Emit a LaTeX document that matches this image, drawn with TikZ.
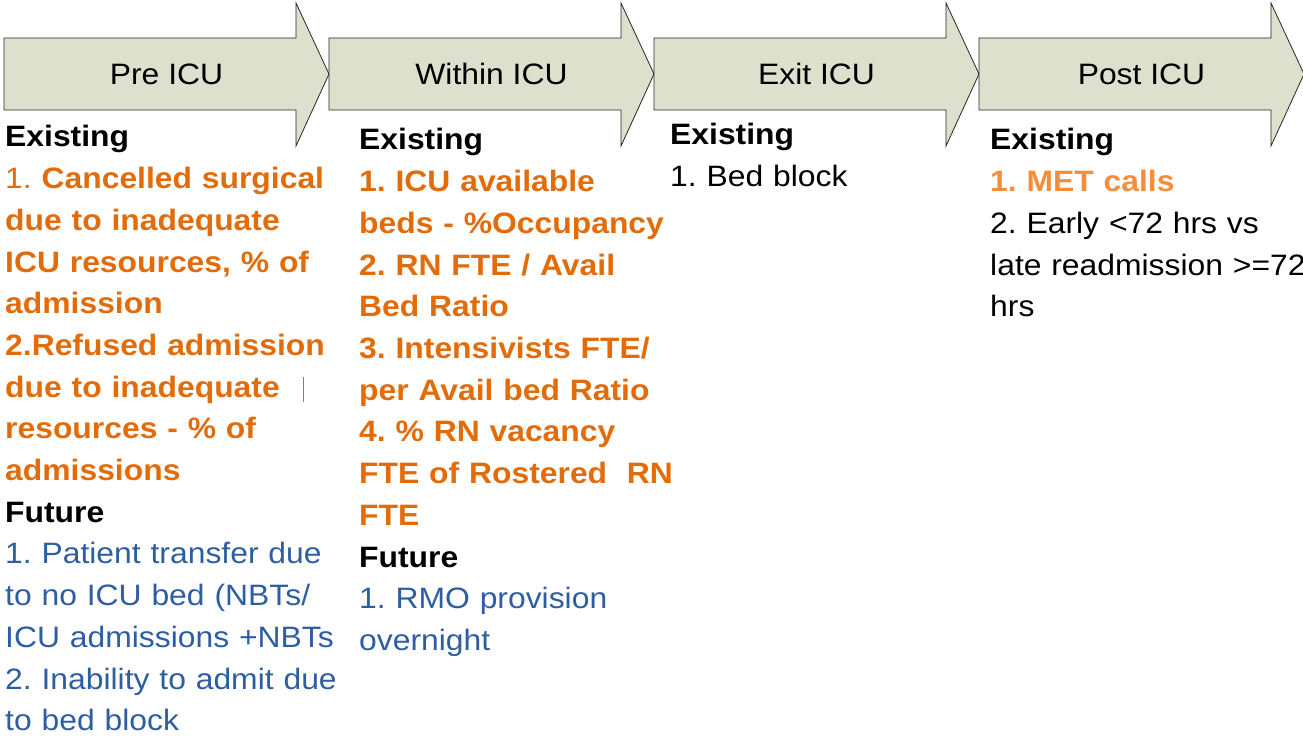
\documentclass[tikz,border=0pt]{standalone}
\usepackage{fontspec}
\setmainfont[FakeStretch=1.08]{Liberation Sans}
\usepackage{xcolor}
\usepackage{tikz}
\usetikzlibrary{positioning}
\frenchspacing

\definecolor{stagefill}{RGB}{221,224,204}
\definecolor{kpiorange}{RGB}{226,107,10}
\definecolor{kpilight}{RGB}{245,142,56}
\definecolor{kpiblue}{RGB}{46,94,162}

\newcommand{\kpihead}[1]{\textbf{#1}}
\newcommand{\kpinow}[1]{\textcolor{kpiorange}{\bfseries #1}}
\newcommand{\kpifuture}[1]{\textcolor{kpiblue}{#1}}

\begin{document}
\begin{tikzpicture}[
    x=1pt, y=-1pt,
    stage/.style={draw=black!85, fill=stagefill, line width=0.8pt},
    stagelabel/.style={font=\fontsize{29.5}{35}\selectfont},
    column/.style={anchor=base west, align=left, inner sep=0pt, text width=360pt,
        font=\fontsize{29.5}{41.7}\selectfont}
]

% Page frame
\useasboundingbox (0,0) rectangle (1303,738);

% Stage arrows
\foreach \i/\name in {0/Pre ICU, 1/Within ICU, 2/Exit ICU, 3/Post ICU} {
    \begin{scope}[shift={(\i*325,0)}]
    \draw[stage] (4,38) -- (296,38) -- (296,3) -- (329,74) -- (296,146) -- (296,110) -- (4,110) -- cycle;
    \node[stagelabel] (stage\i) at (166.5,74) {\name};
    \end{scope}
}

% Pre ICU indicators
\node[column] (pre) at (5,147) {%
    \kpihead{Existing}\\
    \textcolor{kpiorange}{1. \textbf{Cancelled surgical}}\\
    \kpinow{due to inadequate}\\
    \kpinow{ICU resources, \% of}\\
    \kpinow{admission}\\
    \kpinow{2.Refused admission}\\
    \kpinow{due to inadequate}\\
    \kpinow{resources - \% of}\\
    \kpinow{admissions}\\
    \kpihead{Future}\\
    \kpifuture{1. Patient transfer due}\\
    \kpifuture{to no ICU bed (NBTs/}\\
    \kpifuture{ICU admissions +NBTs}\\
    \kpifuture{2. Inability to admit due}\\
    \kpifuture{to bed block}};
\draw[gray, line width=0.8pt] (303,377) -- (303,402);

% Within ICU indicators
\node[column] (within) at (359,150) {%
    \kpihead{Existing}\\
    \kpinow{1. ICU available}\\
    \kpinow{beds - \%Occupancy}\\
    \kpinow{2. RN FTE / Avail}\\
    \kpinow{Bed Ratio}\\
    \kpinow{3. Intensivists FTE/}\\
    \kpinow{per Avail bed Ratio}\\
    \kpinow{4. \% RN vacancy}\\
    \kpinow{FTE of Rostered\ \ RN}\\
    \kpinow{FTE}\\
    \kpihead{Future}\\
    \kpifuture{1. RMO provision}\\
    \kpifuture{overnight}};

% Exit ICU indicators
\node[column] (exit) at (670,145) {%
    \kpihead{Existing}\\
    1. Bed block};

% Post ICU indicators
\node[column] (post) at (990,150) {%
    \kpihead{Existing}\\
    \textcolor{kpilight}{\bfseries 1. MET calls}\\
    2. Early <72 hrs vs\\
    late readmission >=72\\
    hrs};

\end{tikzpicture}
\end{document}
